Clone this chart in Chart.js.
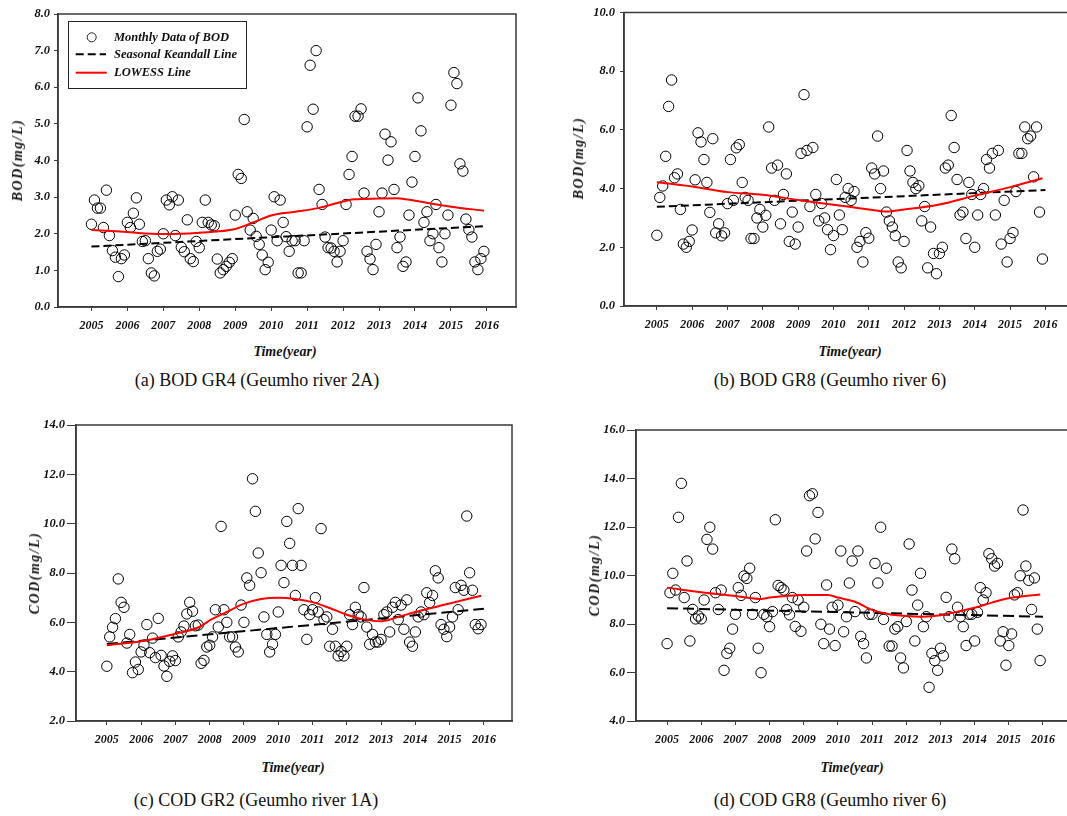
<!DOCTYPE html>
<html>
<head>
<meta charset="utf-8">
<script src="https://cdn.jsdelivr.net/npm/chart.js@4.4.1/dist/chart.umd.min.js"></script>
<style>
  html, body { margin: 0; padding: 0; background: #fff; }
  body { width: 1067px; height: 816px; position: relative; overflow: hidden; font-family: 'Liberation Serif', 'Times New Roman', serif; }
  canvas { position: absolute; }
  .lbl { position: absolute; white-space: nowrap; transform: translate(-50%, -50%); color: #111; }
  .axt { font-weight: bold; font-style: italic; font-size: 14px; }
  .yt { transform: translate(-50%, -50%) rotate(-90deg); letter-spacing: 1.5px; }
  .cap { font-size: 18px; }
</style>
</head>
<body>
<canvas id="chartA" width="530" height="337" style="left:0px;top:0px"></canvas>
<canvas id="chartB" width="500" height="336" style="left:585px;top:0px"></canvas>
<canvas id="chartC" width="530" height="350" style="left:0px;top:400px"></canvas>
<canvas id="chartD" width="500" height="350" style="left:585px;top:400px"></canvas>

<div class="lbl axt yt" style="left:18px;top:160px">BOD(mg/L)</div>
<div class="lbl axt yt" style="left:579px;top:158px">BOD(mg/L)</div>
<div class="lbl axt yt" style="left:35px;top:573px">COD(mg/L)</div>
<div class="lbl axt yt" style="left:595px;top:575px">COD(mg/L)</div>

<div class="lbl axt" style="left:285px;top:352px">Time(year)</div>
<div class="lbl axt" style="left:850px;top:352px">Time(year)</div>
<div class="lbl axt" style="left:293px;top:768px">Time(year)</div>
<div class="lbl axt" style="left:852px;top:768px">Time(year)</div>

<div class="lbl cap" style="left:257px;top:380px">(a) BOD GR4 (Geumho river 2A)</div>
<div class="lbl cap" style="left:830px;top:380px">(b) BOD GR8 (Geumho river 6)</div>
<div class="lbl cap" style="left:256px;top:800px">(c) COD GR2 (Geumho river 1A)</div>
<div class="lbl cap" style="left:830px;top:800px">(d) COD GR8 (Geumho river 6)</div>

<script>
// x axis years, monthly data starts Jan 2005
const START_YEAR = 2005;
const years = [2005, 2006, 2007, 2008, 2009, 2010, 2011, 2012, 2013, 2014, 2015, 2016];

// y tick labels
const ticksA = [0, 1, 2, 3, 4, 5, 6, 7, 8];
const ticksB = [0, 2, 4, 6, 8, 10];
const ticksC = [2, 4, 6, 8, 10, 12, 14];
const ticksD = [4, 6, 8, 10, 12, 14, 16];

// monthly values (2005.01 - 2015.12)
const bodGR4 = [
  2.26, 2.92, 2.70, 2.70, 2.17, 3.19, 1.95, 1.54, 1.36, 0.83, 1.32, 1.42,
  2.31, 2.17, 2.56, 2.98, 2.26, 1.79, 1.81, 1.32, 0.93, 0.85, 1.52, 1.58,
  2.00, 2.92, 2.79, 3.01, 1.95, 2.92, 1.63, 1.51, 2.38, 1.32, 1.24, 1.79,
  1.62, 2.31, 2.92, 2.31, 2.24, 2.22, 1.31, 0.93, 1.02, 1.11, 1.22, 1.32,
  2.51, 3.62, 3.51, 5.12, 2.60, 2.10, 2.42, 1.93, 1.71, 1.42, 1.02, 1.22,
  2.10, 3.01, 1.81, 2.92, 2.31, 1.92, 1.52, 1.81, 1.81, 0.93, 0.93, 1.81,
  4.92, 6.60, 5.40, 7.00, 3.21, 2.80, 1.91, 1.62, 1.61, 1.52, 1.23, 1.52,
  1.81, 2.80, 3.62, 4.11, 5.21, 5.21, 5.41, 3.11, 1.52, 1.31, 1.02, 1.71,
  2.60, 3.11, 4.72, 4.01, 4.51, 3.21, 1.62, 1.91, 1.11, 1.23, 2.51, 3.41,
  4.11, 5.71, 4.81, 2.31, 2.60, 1.81, 2.00, 2.80, 1.62, 1.23, 2.00, 2.51,
  5.51, 6.40, 6.10, 3.91, 3.71, 2.40, 2.11, 1.91, 1.23, 1.02, 1.32, 1.52
];
const bodGR8 = [
  2.41, 3.70, 4.09, 5.10, 6.80, 7.70, 4.37, 4.50, 3.29, 2.11, 2.00, 2.20,
  2.59, 4.30, 5.90, 5.59, 4.99, 4.21, 3.19, 5.70, 2.49, 2.80, 2.39, 2.49,
  3.49, 4.99, 3.60, 5.39, 5.50, 4.21, 3.70, 3.60, 2.30, 2.30, 3.00, 3.29,
  2.69, 3.09, 6.10, 4.70, 3.60, 4.80, 2.80, 3.80, 4.50, 2.20, 3.20, 2.11,
  2.69, 5.20, 7.20, 5.30, 3.39, 5.40, 3.80, 2.90, 3.49, 3.00, 2.60, 1.92,
  2.40, 4.31, 3.10, 2.60, 3.70, 4.00, 3.60, 3.90, 2.00, 2.20, 1.50, 2.50,
  2.31, 4.70, 4.50, 5.79, 4.00, 4.60, 3.20, 2.90, 2.69, 2.40, 1.50, 1.30,
  2.20, 5.30, 4.60, 4.21, 4.00, 4.10, 2.90, 3.39, 1.30, 2.69, 1.79, 1.10,
  1.79, 2.00, 4.70, 4.80, 6.49, 5.40, 4.31, 3.10, 3.20, 2.30, 4.21, 3.80,
  2.00, 3.10, 3.80, 4.00, 4.99, 4.70, 5.20, 3.10, 5.30, 2.11, 3.60, 1.50,
  2.30, 2.50, 3.90, 5.20, 5.20, 6.10, 5.70, 5.79, 4.40, 6.10, 3.20, 1.60
];
const codGR2 = [
  4.22, 5.41, 5.80, 6.15, 7.76, 6.81, 6.61, 5.16, 5.51, 3.96, 4.39, 4.09,
  4.80, 5.07, 5.91, 4.77, 5.36, 4.57, 6.16, 4.66, 4.23, 3.81, 4.42, 4.64,
  4.45, 5.41, 5.61, 5.85, 6.34, 6.81, 6.45, 5.86, 5.89, 4.34, 4.46, 5.00,
  5.07, 5.41, 6.51, 5.81, 9.89, 6.51, 6.00, 5.41, 5.41, 5.00, 4.80, 6.70,
  6.00, 7.80, 7.50, 11.82, 10.50, 8.81, 8.01, 6.22, 5.51, 4.80, 5.11, 5.51,
  6.42, 8.31, 7.61, 10.09, 9.20, 8.31, 7.09, 10.61, 8.31, 6.51, 5.31, 6.31,
  6.51, 7.00, 6.42, 9.80, 6.11, 6.22, 5.03, 5.72, 5.03, 4.64, 4.82, 4.64,
  5.03, 6.31, 5.91, 6.61, 6.31, 6.22, 7.41, 5.81, 5.11, 5.51, 5.20, 5.20,
  5.31, 6.31, 6.42, 5.61, 6.61, 6.81, 6.11, 6.70, 5.72, 6.91, 5.20, 5.03,
  5.61, 6.22, 6.42, 6.31, 7.20, 6.80, 7.09, 8.09, 7.80, 5.91, 5.72, 5.42,
  5.81, 6.22, 7.41, 6.51, 7.50, 7.30, 10.31, 8.01, 7.30, 5.91, 5.74, 5.91
];
const codGR8 = [
  7.19, 9.29, 10.09, 9.40, 12.40, 13.80, 9.09, 10.60, 7.30, 8.60, 8.21, 8.33,
  8.21, 8.99, 11.49, 11.99, 11.09, 9.29, 8.60, 9.40, 6.09, 6.79, 7.00, 7.79,
  8.40, 9.50, 9.18, 9.98, 9.88, 10.30, 8.40, 9.09, 7.00, 5.99, 8.40, 8.30,
  7.89, 8.51, 12.30, 9.59, 9.50, 9.40, 8.59, 8.38, 9.09, 7.90, 8.99, 7.70,
  8.69, 11.01, 13.29, 13.37, 11.51, 12.60, 7.99, 7.19, 9.61, 7.79, 8.69, 7.11,
  8.78, 11.01, 7.68, 8.30, 9.69, 10.60, 8.51, 11.01, 7.49, 7.19, 6.60, 8.40,
  8.40, 10.50, 9.69, 11.99, 8.19, 10.30, 7.09, 7.09, 7.79, 7.89, 6.60, 6.19,
  8.10, 11.30, 9.40, 7.30, 8.78, 10.09, 7.89, 8.30, 5.39, 6.79, 6.49, 6.09,
  7.00, 6.69, 9.10, 8.30, 11.09, 10.69, 8.69, 8.30, 7.89, 7.11, 8.40, 8.40,
  7.30, 8.48, 9.50, 8.99, 9.29, 10.90, 10.69, 10.39, 10.50, 7.30, 7.68, 6.30,
  7.11, 7.59, 9.20, 9.29, 9.99, 12.70, 10.39, 9.80, 8.60, 9.90, 7.79, 6.49
];

// Seasonal Kendall trend line end points
const kendallTime = [2005, 2016];
const kendallA = [1.65, 2.21];
const kendallB = [3.38, 3.95];
const kendallC = [5.12, 6.55];
const kendallD = [8.65, 8.30];

// LOWESS curves
const lowessTimeA = [2005, 2005.8, 2007, 2008, 2009, 2009.55, 2010, 2010.67, 2011.3, 2012, 2012.3, 2013, 2013.5, 2014, 2014.6, 2015, 2015.92];
const lowessA = [2.10, 2.06, 1.99, 2.03, 2.13, 2.33, 2.50, 2.60, 2.70, 2.88, 2.94, 2.96, 2.97, 2.90, 2.80, 2.74, 2.63];
const lowessTimeB = [2005, 2006, 2007, 2008, 2009, 2010, 2011, 2011.5, 2012, 2013, 2014, 2015, 2015.92];
const lowessB = [4.22, 4.07, 3.88, 3.79, 3.61, 3.45, 3.29, 3.22, 3.29, 3.46, 3.76, 4.05, 4.35];
const lowessTimeC = [2005, 2006, 2007, 2007.7, 2008, 2008.5, 2009, 2009.5, 2010, 2010.5, 2011, 2011.5, 2012, 2012.5, 2013, 2013.5, 2014, 2015, 2015.92];
const lowessC = [5.07, 5.23, 5.54, 5.81, 6.08, 6.42, 6.76, 6.95, 7.00, 6.95, 6.82, 6.58, 6.31, 6.12, 6.04, 6.22, 6.42, 6.76, 7.08];
const lowessTimeD = [2005, 2006, 2007, 2007.75, 2008, 2009, 2009.7, 2010, 2010.5, 2011, 2011.5, 2012, 2012.5, 2013, 2013.5, 2014, 2014.5, 2015, 2015.92];
const lowessD = [9.50, 9.31, 9.15, 9.03, 9.09, 9.20, 9.20, 9.09, 8.92, 8.58, 8.40, 8.33, 8.30, 8.36, 8.51, 8.67, 8.88, 9.06, 9.22];

const FONT = "'Liberation Serif', 'Times New Roman', serif";
const AXIS_COLOR = '#3a3a3a';

function toPoints(xs, ys) {
  return ys.map((v, i) => ({ x: xs[i], y: v }));
}
function monthly(values) {
  return values.map((v, i) => ({ x: START_YEAR + i / 12, y: v }));
}

// box round the plot area
const framePlugin = {
  id: 'frame',
  afterDraw(chart) {
    const { ctx, chartArea: a } = chart;
    ctx.save();
    ctx.strokeStyle = AXIS_COLOR;
    ctx.lineWidth = 1.5;
    ctx.strokeRect(a.left, a.top, a.right - a.left, a.bottom - a.top);
    ctx.restore();
  }
};

// legend box of panel (a)
const legendPlugin = {
  id: 'boxLegend',
  afterDraw(chart) {
    const ctx = chart.ctx;
    ctx.save();
    ctx.strokeStyle = '#222';
    ctx.lineWidth = 1;
    ctx.strokeRect(68.5, 21.5, 178, 67);
    ctx.beginPath();
    ctx.arc(91.7, 37.3, 4.5, 0, Math.PI * 2);
    ctx.stroke();
    ctx.lineWidth = 2;
    ctx.setLineDash([8, 4]);
    ctx.strokeStyle = '#000';
    ctx.beginPath();
    ctx.moveTo(75.7, 54.3);
    ctx.lineTo(106, 54.3);
    ctx.stroke();
    ctx.setLineDash([]);
    ctx.strokeStyle = '#ff0000';
    ctx.beginPath();
    ctx.moveTo(75.7, 72.7);
    ctx.lineTo(106.7, 72.7);
    ctx.stroke();
    ctx.fillStyle = '#111';
    ctx.font = 'italic bold 12.5px ' + FONT;
    ctx.textBaseline = 'middle';
    ctx.fillText('Monthly Data of BOD', 114, 37.3);
    ctx.fillText('Seasonal Keandall Line', 114, 54.3);
    ctx.fillText('LOWESS Line', 114, 72.7);
    ctx.restore();
  }
};

function makeChart(id, p) {
  const ctx = document.getElementById(id).getContext('2d');
  return new Chart(ctx, {
    type: 'scatter',
    data: {
      datasets: [
        {
          label: 'LOWESS Line',
          data: toPoints(p.lowessTime, p.lowess),
          showLine: true,
          borderColor: '#ff0000',
          borderWidth: 2,
          pointRadius: 0,
          cubicInterpolationMode: 'monotone',
        },
        {
          label: 'Seasonal Keandall Line',
          data: toPoints(kendallTime, p.kendall),
          showLine: true,
          borderColor: '#000',
          borderWidth: 2,
          borderDash: p.dash,
          pointRadius: 0,
        },
        {
          label: 'Monthly Data',
          data: monthly(p.values),
          pointRadius: 5.2,
          pointBorderWidth: 1,
          pointBorderColor: '#000',
          pointBackgroundColor: 'rgba(0,0,0,0)',
        },
      ],
    },
    options: {
      responsive: false,
      animation: false,
      devicePixelRatio: 1,
      layout: { padding: { top: p.padTop, right: p.padRight, left: 0, bottom: 0 } },
      plugins: { legend: { display: false }, tooltip: { enabled: false } },
      scales: {
        x: {
          type: 'linear',
          min: p.xMin,
          max: p.xMax,
          afterBuildTicks: s => { s.ticks = years.map(v => ({ value: v })); },
          afterFit: s => { s.height = p.xHeight; },
          grid: { drawOnChartArea: false, tickLength: 4, color: AXIS_COLOR },
          border: { color: AXIS_COLOR, width: 1.5 },
          ticks: {
            autoSkip: false,
            maxRotation: 0,
            padding: 8,
            color: '#111',
            font: { family: FONT, size: 12, style: 'italic', weight: 'bold' },
            callback: v => String(v),
          },
        },
        y: {
          min: p.yTicks[0],
          max: p.yTicks[p.yTicks.length - 1],
          afterBuildTicks: s => { s.ticks = p.yTicks.map(v => ({ value: v })); },
          afterFit: s => { s.width = p.yWidth; },
          grid: { drawOnChartArea: false, tickLength: p.yTickLen, color: AXIS_COLOR },
          border: { color: AXIS_COLOR, width: 1.5 },
          ticks: {
            padding: p.yPad,
            color: '#111',
            font: { family: FONT, size: 12.5, style: 'italic', weight: 'bold' },
            callback: v => Number(v).toFixed(1),
          },
        },
      },
    },
    plugins: p.legend ? [framePlugin, legendPlugin] : [framePlugin],
  });
}

makeChart('chartA', {
  values: bodGR4, kendall: kendallA, lowessTime: lowessTimeA, lowess: lowessA,
  yTicks: ticksA, xMin: 2004.07, xMax: 2016.81, dash: [8, 4],
  padTop: 14, padRight: 14, xHeight: 30, yWidth: 58, yTickLen: 4, yPad: 4, legend: true,
});
makeChart('chartB', {
  values: bodGR8, kendall: kendallB, lowessTime: lowessTimeB, lowess: lowessB,
  yTicks: ticksB, xMin: 2004.07, xMax: 2016.81, dash: [8, 4],
  padTop: 11, padRight: 11, xHeight: 30, yWidth: 39, yTickLen: 4, yPad: 5,
});
makeChart('chartC', {
  values: codGR2, kendall: kendallC, lowessTime: lowessTimeC, lowess: lowessC,
  yTicks: ticksC, xMin: 2004.10, xMax: 2016.82, dash: [11, 5],
  padTop: 25, padRight: 18, xHeight: 29, yWidth: 76, yTickLen: 9, yPad: 2,
});
makeChart('chartD', {
  values: codGR8, kendall: kendallD, lowessTime: lowessTimeD, lowess: lowessD,
  yTicks: ticksD, xMin: 2004.09, xMax: 2016.82, dash: [11, 5],
  padTop: 30, padRight: 14, xHeight: 29, yWidth: 51, yTickLen: 9, yPad: 2,
});
</script>
</body>
</html>
